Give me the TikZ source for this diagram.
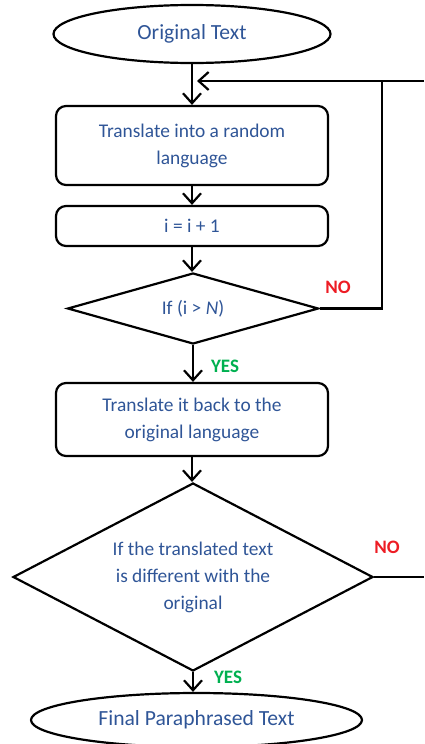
\documentclass[tikz,border=0pt]{standalone}
\usepackage{fontspec}
\setmainfont{Carlito}
\usetikzlibrary{shapes.geometric,arrows.meta}
\definecolor{txtblue}{RGB}{47,85,151}
\definecolor{nored}{RGB}{237,28,36}
\definecolor{yesgreen}{RGB}{0,176,80}
\tikzset{
  base/.style={draw=black, line width=2.2pt, text=txtblue, align=center, inner sep=0pt,
    font=\fontsize{19.4}{27}\selectfont},
  term/.style={base, ellipse, font=\fontsize{21.6}{26}\selectfont},
  procbox/.style={base, rectangle, rounded corners=10pt, minimum width=272pt},
  decide/.style={base, diamond},
  conn/.style={line width=2.2pt, draw=black},
  arr/.style={conn, -{Straight Barb[length=10pt,width=18pt]}},
  nolab/.style={text=nored, font=\fontsize{19}{23}\selectfont\bfseries},
  yeslab/.style={text=yesgreen, font=\fontsize{19}{23}\selectfont\bfseries},
}
\begin{document}
\begin{tikzpicture}[x=1pt,y=-1pt]
\useasboundingbox (0,0) rectangle (424,744);
\node[term, minimum width=277pt, minimum height=58pt] (start) at (192,34) {Original Text};
\node[procbox, minimum height=79pt] (box1) at (192,145.5) {Translate into a random\\language};
\node[procbox, minimum height=40pt] (box2) at (192,226) {i = i + 1};
\node[decide, shape aspect=3.5, minimum width=251pt, minimum height=71pt] (dia1) at (193,308.5) {If (i > \textit{N})};
\node[procbox, minimum height=73pt] (box3) at (192,419.5) {Translate it back to the\\original language};
\node[decide, shape aspect=1.9, minimum width=360pt, minimum height=188pt] (dia2) at (193,577) {If the translated text\\is different with the\\original};
\node[term, minimum width=331pt, minimum height=54pt] (final) at (196.5,720) {Final Paraphrased Text};

\coordinate (edgeTop) at (424,81);
\coordinate (joint) at (382,81);
\coordinate (tip) at (197,81);
\coordinate (edgeBot) at (424,577);

\draw[arr] (start.south) -- (start.south |- box1.north);
\draw[arr] (box1.south) -- (box2.north);
\draw[arr] (box2.south) -- (box2.south |- dia1.north);
\draw[arr] (dia1.south) -- (dia1.south |- box3.north);
\draw[arr] (box3.south) -- (box3.south |- dia2.north);
\draw[arr] (dia2.south) -- (dia2.south |- final.north);

\draw[arr] (edgeTop) -- (tip);
\draw[conn] (dia1.east) -- (joint |- dia1.east) -- (joint);
\draw[conn] (dia2.east) -- (edgeBot);

\node[nolab] (no1) at (338,287) {NO};
\node[yeslab] (yes1) at (225,366) {YES};
\node[nolab] (no2) at (387,547) {NO};
\node[yeslab] (yes2) at (228,677) {YES};
\end{tikzpicture}
\end{document}
